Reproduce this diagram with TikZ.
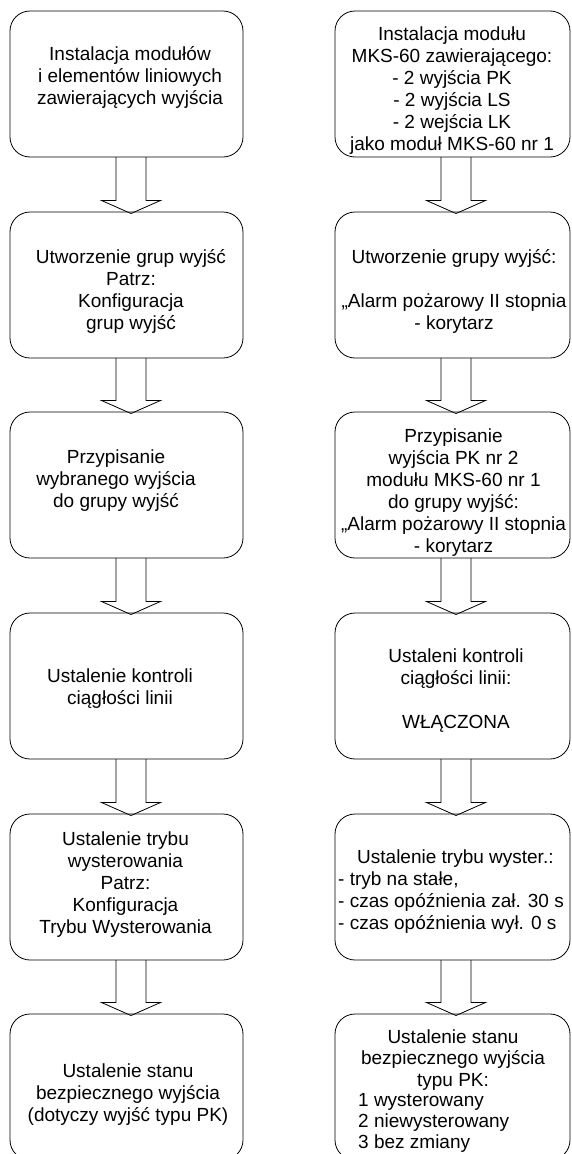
\documentclass[tikz,border=0pt]{standalone}
\usepackage{fontspec}
\setmainfont{Liberation Sans}
\usetikzlibrary{calc}
\tikzset{
  box/.style={draw, rounded corners=20pt, minimum height=146pt, inner sep=0pt, outer sep=0pt, line width=0.8pt},
  lbox/.style={box, minimum width=233pt},
  rbox/.style={box, minimum width=235pt},
  txt/.style={align=center, inner sep=0pt, font=\fontsize{19}{22}\selectfont},
  ltxt/.style={txt, align=left, anchor=west},
  tight/.style={font=\fontsize{19}{21.4}\selectfont},
  fat/.style={draw, line width=0.8pt, line join=miter},
}
\newcommand{\fatarrow}[3]{\draw[fat] let \p1=(#2.south), \p2=(#3.north) in
  (#1pt-15pt,\y1) -- (#1pt-15pt,\y2+11.5pt) -- (#1pt-29.5pt,\y2+11.5pt) -- (#1pt,\y2-1.5pt)
  -- (#1pt+29.5pt,\y2+11.5pt) -- (#1pt+15pt,\y2+11.5pt) -- (#1pt+15pt,\y1);}
\begin{document}
\begin{tikzpicture}[x=1pt,y=-1pt]
\useasboundingbox (0,0) rectangle (571,1154);
\clip (0,0) rectangle (571,1154);
% left column boxes
\node[lbox] (L1) at (126.5,84) {};
\node[lbox] (L2) at (126.5,285) {};
\node[lbox] (L3) at (126.5,485) {};
\node[lbox] (L4) at (126.5,686) {};
\node[lbox] (L5) at (126.5,887) {};
\node[lbox] (L6) at (126.5,1087) {};
% right column boxes
\node[rbox] (R1) at (452.5,84) {};
\node[rbox] (R2) at (452.5,285) {};
\node[rbox] (R3) at (452.5,485) {};
\node[rbox] (R4) at (452.5,686) {};
\node[rbox] (R5) at (452.5,887) {};
\node[rbox] (R6) at (452.5,1087) {};
% arrows
\fatarrow{131}{L1}{L2}
\fatarrow{131}{L2}{L3}
\fatarrow{131}{L3}{L4}
\fatarrow{131}{L4}{L5}
\fatarrow{131}{L5}{L6}
\fatarrow{456}{R1}{R2}
\fatarrow{456}{R2}{R3}
\fatarrow{456}{R3}{R4}
\fatarrow{456}{R4}{R5}
\fatarrow{456}{R5}{R6}
% left texts
\node[txt] (tL1) at (130,77.5) {Instalacja modułów\\i elementów liniowych\\zawierających wyjścia};
\node[txt] (tL2) at (131,291.5) {Utworzenie grup wyjść\\Patrz:\\Konfiguracja\\grup wyjść};
\node[txt] (tL3) at (116,480.5) {Przypisanie\\wybranego wyjścia\\do grupy wyjść};
\node[txt] (tL4) at (120,688.5) {Ustalenie kontroli\\ciągłości linii};
\node[txt] (tL5) at (125.5,885) {Ustalenie trybu\\wysterowania\\Patrz:\\Konfiguracja\\Trybu Wysterowania};
\node[txt] (tL6) at (128,1094.5) {Ustalenie stanu\\bezpiecznego wyjścia\\(dotyczy wyjść typu PK)};
% right texts
\node[txt] (tR1) at (452,91) {Instalacja modułu\\MKS-60 zawierającego:\\- 2 wyjścia PK\\- 2 wyjścia LS\\- 2 wejścia LK\\jako moduł MKS-60 nr 1};
\node[txt] (tR2) at (454,291.5) {Utworzenie grupy wyjść:\\[22pt]„Alarm pożarowy II stopnia\\- korytarz};
\node[txt] (tR3) at (453.5,493) {Przypisanie\\wyjścia PK nr 2\\modułu MKS-60 nr 1\\do grupy wyjść:\\„Alarm pożarowy II stopnia\\- korytarz};
\node[txt] (tR4) at (456,690.5) {Ustaleni kontroli\\ciągłości linii:\\[22pt]WŁĄCZONA};
\node[ltxt] (tR5) at (338,891.5) {\hspace*{19pt}Ustalenie trybu wyster.:\\- tryb na stałe,\\- czas opóźnienia zał. 30 s\\- czas opóźnienia wył. 0 s};
\node[txt, tight] (tR6a) at (453,1060) {Ustalenie stanu\\bezpiecznego wyjścia\\typu PK:};
\node[ltxt, tight] (tR6b) at (358,1123) {1 wysterowany\\2 niewysterowany\\3 bez zmiany};
\end{tikzpicture}
\end{document}
